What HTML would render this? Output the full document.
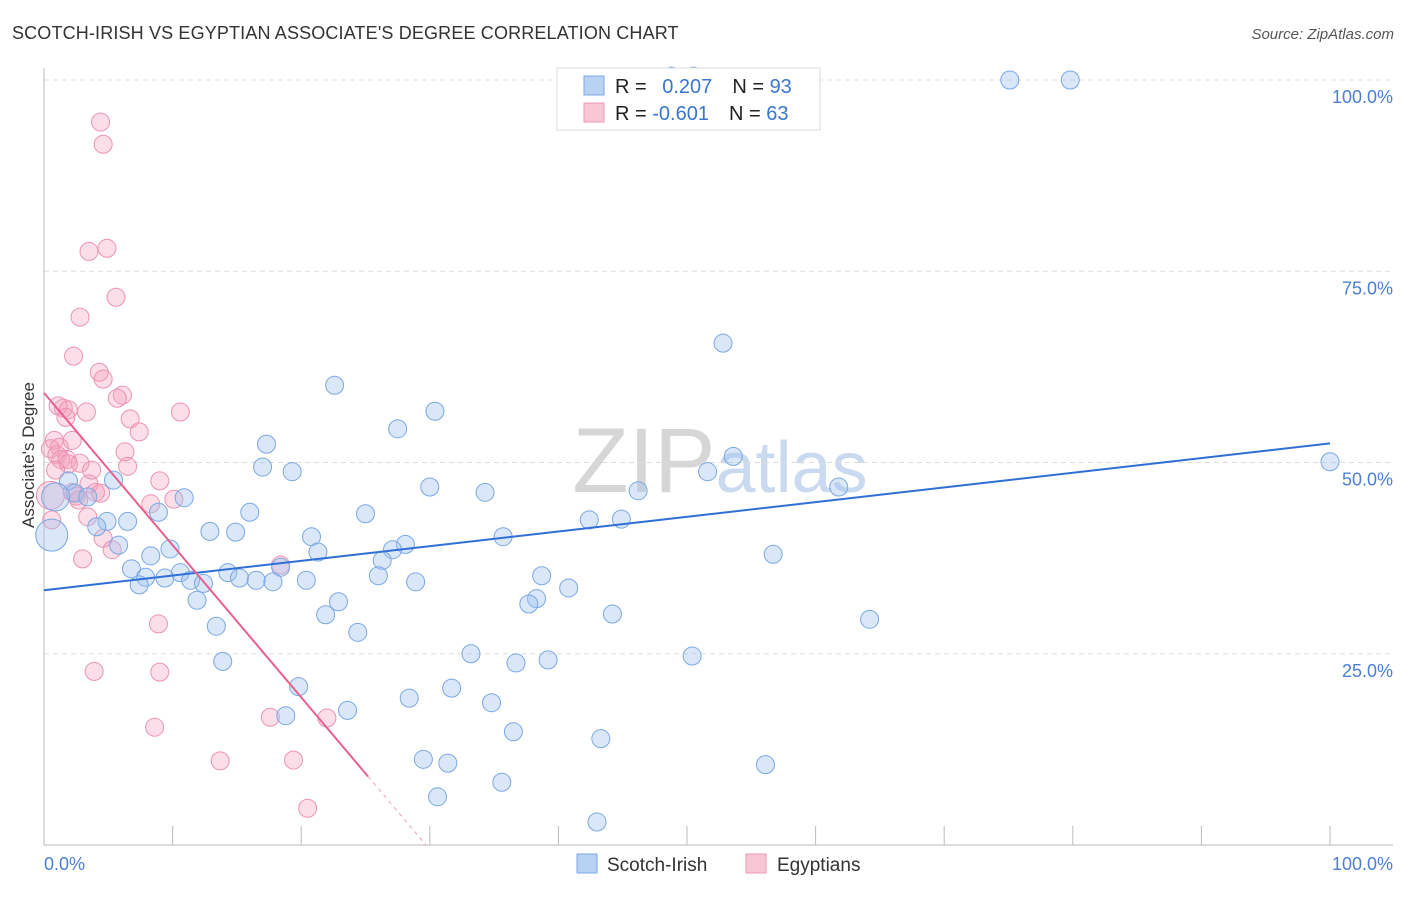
<!DOCTYPE html>
<html><head><meta charset="utf-8"><style>
body{margin:0;background:#fff;font-family:"Liberation Sans",sans-serif}
svg text{font-family:"Liberation Sans",sans-serif}
</style></head><body>
<svg id="chart" width="1406" height="892" viewBox="0 0 1406 892">
<text x="12" y="39" font-size="18" letter-spacing="0.15" fill="#333">SCOTCH-IRISH VS EGYPTIAN ASSOCIATE'S DEGREE CORRELATION CHART</text>
<text x="1394" y="39" font-size="15" fill="#555" text-anchor="end" font-style="italic">Source: ZipAtlas.com</text>
<text x="720" y="492" font-size="92" fill="#ddd" text-anchor="middle" font-family="Liberation Serif"><tspan fill="#d6d6d6">ZIP</tspan><tspan fill="#c9daf0" font-family="Liberation Sans" font-size="72">atlas</tspan></text>
<g id="grid"></g>
<g id="axes"></g>
<text transform="translate(34,455) rotate(-90)" font-size="17" fill="#333" text-anchor="middle">Associate's Degree</text>
<g id="marks"></g>
<g id="trend"></g>
<g>
<rect x="557" y="68" width="263" height="62" fill="#fff" stroke="#ddd"/>
<rect x="584" y="76" width="20" height="19" fill="#b8d2f4" stroke="#7aaae6"/>
<rect x="584" y="103" width="20" height="19" fill="#f9c6d6" stroke="#ee98b4"/>
<text x="615" y="93" font-size="20" fill="#222">R = <tspan fill="#3a76d0" dx="10">0.207</tspan><tspan dx="20" fill="#222">N = </tspan><tspan fill="#3a76d0">93</tspan></text>
<text x="615" y="120" font-size="20" fill="#222">R = <tspan fill="#3a76d0">-0.601</tspan><tspan dx="20" fill="#222">N = </tspan><tspan fill="#3a76d0">63</tspan></text>
</g>
<g>
<rect x="577" y="854" width="20" height="19" fill="#b8d2f4" stroke="#7aaae6"/>
<text x="607" y="871" font-size="19" fill="#333">Scotch-Irish</text>
<rect x="746" y="854" width="20" height="19" fill="#f9c6d6" stroke="#ee98b4"/>
<text x="777" y="871" font-size="19" fill="#333">Egyptians</text>
</g>
</svg>
<script>
const blueX=[75.1,79.8,48.8,50.5,52.8,22.6,30.4,27.5,17.3,53.6,17.0,19.3,51.6,100,61.8,30.0,34.3,46.2,10.9,5.4,1.9,2.4,3.4,16.0,8.9,25.0,42.4,44.9,6.5,4.9,4.1,12.9,14.9,20.8,35.7,28.1,27.1,5.8,9.8,21.3,8.3,56.7,26.3,6.8,18.4,14.3,10.6,7.9,11.4,9.4,15.2,16.5,17.8,20.4,26.0,28.9,38.7,7.4,12.4,40.8,38.3,37.7,11.9,22.9,21.9,44.2,64.2,13.4,24.4,33.2,50.4,39.2,36.7,13.9,19.8,31.7,28.4,34.8,23.6,18.8,36.5,43.3,29.5,31.4,56.1,35.6,30.6,43.0,0.9,0.6];
const blueY=[100,100,100.5,100.5,65.6,60.1,56.7,54.4,52.4,50.8,49.4,48.8,48.8,50.1,46.8,46.8,46.1,46.3,45.4,47.7,47.6,46.0,45.5,43.5,43.5,43.3,42.5,42.6,42.3,42.3,41.6,41.0,40.9,40.3,40.3,39.3,38.6,39.2,38.7,38.3,37.8,38.0,37.2,36.1,36.3,35.6,35.6,35.0,34.6,34.9,34.9,34.6,34.4,34.6,35.2,34.4,35.2,34.0,34.2,33.6,32.2,31.5,32.0,31.8,30.1,30.2,29.5,28.6,27.8,25.0,24.7,24.2,23.8,24.0,20.7,20.5,19.2,18.6,17.6,16.9,14.8,13.9,11.2,10.7,10.5,8.2,6.3,3.0,45.5,40.5];
const blueR=[9,9,9,9,9,9,9,9,9,9,9,9,9,9,9,9,9,9,9,9,9,9,9,9,9,9,9,9,9,9,9,9,9,9,9,9,9,9,9,9,9,9,9,9,9,9,9,9,9,9,9,9,9,9,9,9,9,9,9,9,9,9,9,9,9,9,9,9,9,9,9,9,9,9,9,9,9,9,9,9,9,9,9,9,9,9,9,9,14,16];
const pinkX=[4.4,4.6,4.9,3.5,5.6,2.8,2.3,4.3,4.6,6.1,5.7,1.5,1.1,1.9,3.3,1.7,6.7,10.6,7.4,0.8,1.2,2.2,0.5,1.0,1.3,1.8,6.3,2.8,1.9,6.5,3.7,9.0,3.5,4.0,2.2,4.4,2.5,10.1,8.3,2.7,3.4,4.6,3.0,5.3,18.4,8.9,3.9,9.0,17.6,22.0,8.6,13.7,19.4,20.5,0.6,0.9,0.5];
const pinkY=[94.5,91.6,78.0,77.6,71.6,69.0,63.9,61.8,60.9,58.8,58.4,57.1,57.4,56.9,56.6,55.9,55.7,56.6,54.0,52.9,52.0,52.9,51.8,51.0,50.4,50.4,51.4,49.9,49.8,49.5,49.0,47.6,47.2,46.1,46.1,46.0,45.6,45.2,44.6,45.1,42.9,40.1,37.4,38.6,36.6,28.9,22.7,22.6,16.7,16.6,15.4,11.0,11.1,4.8,42.5,49.0,45.7];
const pinkR=[9,9,9,9,9,9,9,9,9,9,9,9,9,9,9,9,9,9,9,9,9,9,9,9,9,9,9,9,9,9,9,9,9,9,9,9,9,9,9,9,9,9,9,9,9,9,9,9,9,9,9,9,9,9,9,9,14];
const blueTrend=[33.3,52.5];
const pinkTrend=[59.1,-1.99,25.2];
const yTicks=[25,50,75,100];
const yTickLabels=["25.0%","50.0%","75.0%","100.0%"];
const xTicks=[0,10,20,30,40,50,60,70,80,90,100];

const NS="http://www.w3.org/2000/svg";
const X=v=>44+v*12.86, Y=v=>845-v*7.65;
function mk(tag,attrs,parent){const e=document.createElementNS(NS,tag);for(const k in attrs)e.setAttribute(k,attrs[k]);parent.appendChild(e);return e;}
const grid=document.getElementById('grid'),axes=document.getElementById('axes'),marks=document.getElementById('marks'),trend=document.getElementById('trend');
yTicks.forEach((t,i)=>{
 const l=mk('line',{x1:44,x2:1393,y1:Y(t),y2:Y(t),stroke:'#ddd','stroke-dasharray':'5,4'},grid);
 
 
 const tx=mk('text',{x:1393,y:Y(t)+23,'font-size':18,fill:'#4a7fd4','text-anchor':'end'},axes);
 tx.textContent=yTickLabels[i];
 
 
});
const ax=mk('line',{x1:44,x2:1393,y1:845,y2:845,stroke:'#bbb'},axes);


const ay=mk('line',{x1:44,x2:44,y1:68,y2:845,stroke:'#bbb'},axes);


xTicks.forEach(t=>{
 const l=mk('line',{x1:X(t),x2:X(t),y1:826,y2:845,stroke:'#bbb'},axes);
 
 
});
const xl0=mk('text',{x:44,y:870,'font-size':18,fill:'#4a7fd4'},axes);xl0.textContent='0.0%';


const xl1=mk('text',{x:1393,y:870,'font-size':18,fill:'#4a7fd4','text-anchor':'end'},axes);xl1.textContent='100.0%';


pinkX.forEach((v,i)=>{
 const c=mk('circle',{cx:X(v),cy:Y(pinkY[i]),r:pinkR[i],fill:'rgba(244,160,190,0.35)',stroke:'#ec93b2','stroke-width':1},marks);
 
 
});
blueX.forEach((v,i)=>{
 const c=mk('circle',{cx:X(v),cy:Y(blueY[i]),r:blueR[i],fill:'rgba(160,195,240,0.4)',stroke:'#7aa8e4','stroke-width':1},marks);
 
 
});
const bl=mk('line',{x1:X(0),y1:Y(blueTrend[0]),x2:X(100),y2:Y(blueTrend[1]),stroke:'#2f6fd6','stroke-width':2},trend);


const pe=pinkTrend[2], pz=-pinkTrend[0]/pinkTrend[1];
const pl=mk('line',{x1:X(0),y1:Y(pinkTrend[0]),x2:X(pe),y2:Y(pinkTrend[0]+pinkTrend[1]*pe),stroke:'#e8608e','stroke-width':2},trend);


const pd=mk('line',{x1:X(pe),y1:Y(pinkTrend[0]+pinkTrend[1]*pe),x2:X(pz),y2:Y(0),stroke:'#f0a0bc','stroke-width':1,'stroke-dasharray':'4,4'},trend);


</script>
</body></html>
